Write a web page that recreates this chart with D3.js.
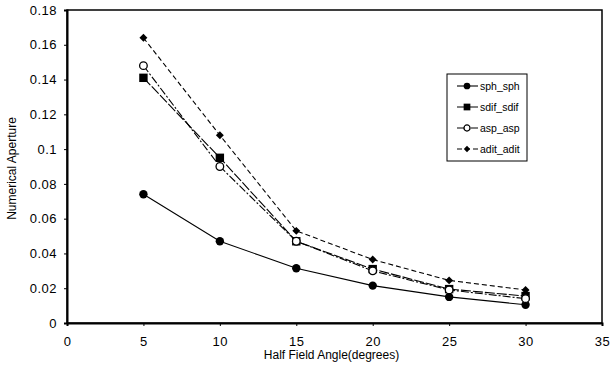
<!DOCTYPE html>
<html>
<head>
<meta charset="utf-8">
<script src="https://cdn.jsdelivr.net/npm/d3@7"></script>
<style>
  body { margin: 0; background: #fff; }
  text { font-family: "Liberation Sans", Arial, sans-serif; fill: #000; }
</style>
</head>
<body>
<svg id="chart" width="611" height="371"></svg>
<script>
// data
const angles = [5, 10, 15, 20, 25, 30];
const sphSph = [0.074, 0.047, 0.0315, 0.0215, 0.015, 0.0105];
const sdifSdif = [0.141, 0.095, 0.047, 0.031, 0.0195, 0.0155];
const aspAsp = [0.148, 0.090, 0.047, 0.030, 0.019, 0.014];
const aditAdit = [0.164, 0.108, 0.053, 0.0365, 0.0245, 0.019];
const xTicks = [0, 5, 10, 15, 20, 25, 30, 35];
const yTicks = [0, 0.02, 0.04, 0.06, 0.08, 0.1, 0.12, 0.14, 0.16, 0.18];

const series = [
  { name: "sph_sph", values: sphSph, marker: "circle", dash: null },
  { name: "sdif_sdif", values: sdifSdif, marker: "square", dash: "10,2" },
  { name: "asp_asp", values: aspAsp, marker: "open", dash: "8,2,2,2" },
  { name: "adit_adit", values: aditAdit, marker: "diamond", dash: "5,3" }
];

const margin = { top: 10, right: 9, bottom: 48, left: 67 };
const width = 611 - margin.left - margin.right,
      height = 371 - margin.top - margin.bottom;

const svg = d3.select("#chart");
const g = svg.append("g").attr("transform", `translate(${margin.left},${margin.top})`);

const x = d3.scaleLinear().domain([0, 35]).range([0, width]);
const y = d3.scaleLinear().domain([0, 0.18]).range([height, 0]);

// frame
g.append("rect")
  .attr("width", width).attr("height", height)
  .attr("fill", "none").attr("stroke", "#000").attr("stroke-width", 1.5);

// axes
const xAxis = g.append("g")
  .attr("transform", `translate(0,${height})`)
  .call(d3.axisBottom(x).tickValues(xTicks).tickSize(3).tickFormat(d3.format("d")));
const yAxis = g.append("g")
  .call(d3.axisLeft(y).tickValues(yTicks).tickSize(3)
    .tickFormat(d => d === 0 ? "0" : d3.format(".2~f")(d)));

[xAxis, yAxis].forEach(ax => {
  ax.select(".domain").attr("stroke-width", 2);
  ax.selectAll("text").style("font-size", "13px")
    .style("letter-spacing", "0.5px")
    .style("font-family", "'Liberation Sans', Arial, sans-serif");
});
xAxis.selectAll(".tick text").attr("dy", "1.3em");
yAxis.selectAll(".tick text").attr("x", -10);

// axis titles
svg.append("text")
  .attr("x", margin.left + x(17.5) - 3).attr("y", 359)
  .attr("text-anchor", "middle").style("font-size", "12px")
  .text("Half Field Angle(degrees)");
svg.append("text")
  .attr("transform", `translate(16,${margin.top + y(0.09) + 2}) rotate(-90)`)
  .attr("text-anchor", "middle").style("font-size", "12px")
  .text("Numerical Aperture");

function drawMarker(sel, type, k) {
  if (type === "circle") {
    sel.append("circle").attr("r", 4.2 * k).attr("fill", "#000");
  } else if (type === "square") {
    sel.append("rect").attr("x", -4.2 * k).attr("y", -4.2 * k)
      .attr("width", 8.4 * k).attr("height", 8.4 * k).attr("fill", "#000");
  } else if (type === "open") {
    sel.append("circle").attr("r", 3.8 * k).attr("fill", "#fff").attr("stroke", "#000").attr("stroke-width", 1.3);
  } else {
    sel.append("path").attr("d", d3.symbol(d3.symbolDiamond2, 40 * k * k)()).attr("fill", "#000");
  }
}

const line = d3.line().x(d => x(d[0])).y(d => y(d[1]));

series.forEach(s => {
  const pts = angles.map((a, i) => [a, s.values[i]]);
  g.append("path")
    .datum(pts)
    .attr("d", line)
    .attr("fill", "none")
    .attr("stroke", "#000")
    .attr("stroke-width", 1.1)
    .attr("stroke-dasharray", s.dash);
  pts.forEach(p => {
    const m = g.append("g").attr("transform", `translate(${x(p[0])},${y(p[1])})`);
    drawMarker(m, s.marker, 1);
  });
});

// legend
const legend = svg.append("g").attr("transform", "translate(447,74)");
legend.append("rect")
  .attr("width", 80).attr("height", 87)
  .attr("fill", "#fff").attr("stroke", "#000").attr("stroke-width", 1);
series.forEach((s, i) => {
  const row = legend.append("g").attr("transform", `translate(0,${12 + i * 21})`);
  row.append("line").attr("x1", 10).attr("x2", 31).attr("stroke", "#000")
    .attr("stroke-width", 1.1).attr("stroke-dasharray", s.dash);
  const m = row.append("g").attr("transform", "translate(20,0)");
  drawMarker(m, s.marker, 0.8);
  row.append("text").attr("x", 33).attr("y", 4)
    .style("font-size", "10.5px").text(s.name);
});
</script>
</body>
</html>
